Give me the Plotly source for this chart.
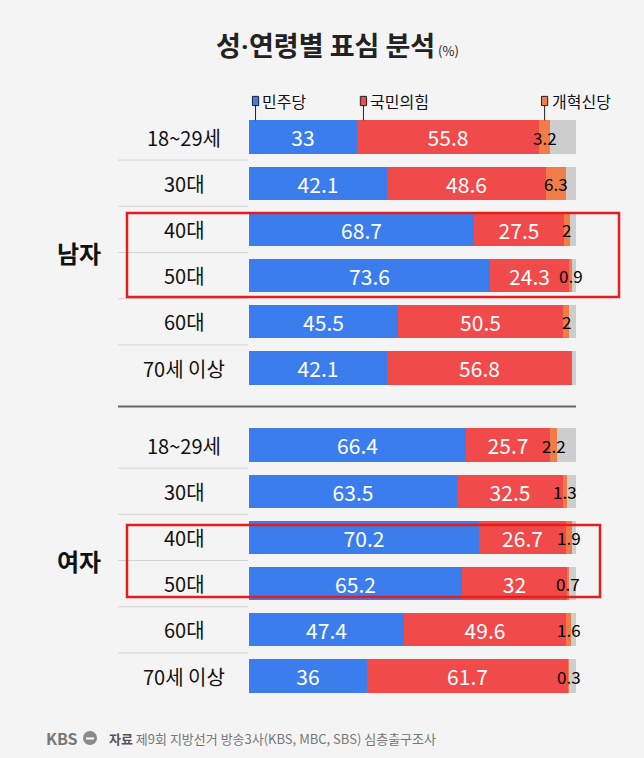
import plotly.graph_objects as go

# 데이터
parties = ['민주당', '국민의힘', '개혁신당']
ages = ['18~29세', '30대', '40대', '50대', '60대', '70세 이상']
groups = ['남자', '여자']

men_dem = [33, 42.1, 68.7, 73.6, 45.5, 42.1]
men_ppp = [55.8, 48.6, 27.5, 24.3, 50.5, 56.8]
men_rep = [3.2, 6.3, 2, 0.9, 2, None]

women_dem = [66.4, 63.5, 70.2, 65.2, 47.4, 36]
women_ppp = [25.7, 32.5, 26.7, 32, 49.6, 61.7]
women_rep = [2.2, 1.3, 1.9, 0.7, 1.6, 0.3]

source = '제9회 지방선거 방송3사(KBS, MBC, SBS) 심층출구조사'

# 스타일
W, H = 644, 758
FONT = 'Noto Sans CJK KR'
BLUE = '#3b7ded'
RED = '#f04a4a'
ORANGE = '#f07c48'
GRAY = '#cdcdcd'
BG = '#f4f4f4'

ROW_PX = 46.2      # 행 간격(px)
TOP_ROW_PX = 137   # 첫 행 중심(px)
GAP = 6.667        # 여자 그룹 시작 위치


def px(x):
    return x / W


def py(y):
    return 1 - y / H


dem = men_dem + women_dem
ppp = men_ppp + women_ppp
rep = men_rep + women_rep
rep0 = [v if v is not None else 0 for v in rep]
rest = [max(0, 100 - a - b - c) for a, b, c in zip(dem, ppp, rep0)]
ypos = [i for i in range(len(ages))] + [i + GAP for i in range(len(ages))]

fig = go.Figure()
common = dict(orientation='h', y=ypos, width=0.72, marker_line_width=0,
              hoverinfo='skip', showlegend=False)
inside = dict(textposition='inside', insidetextanchor='middle', constraintext='none',
              textangle=0, textfont=dict(color='white', size=21, family=FONT))
fig.add_trace(go.Bar(x=dem, marker_color=BLUE, text=[f'{v:g}' for v in dem], **inside, **common))
fig.add_trace(go.Bar(x=ppp, marker_color=RED, text=[f'{v:g}' for v in ppp], **inside, **common))
fig.add_trace(go.Bar(x=rep0, marker_color=ORANGE, textposition='none', **common))
fig.add_trace(go.Bar(x=rest, marker_color=GRAY, textposition='none', **common))

annotations = []
shapes = []

# 개혁신당 값 라벨
for a, b, c, y in zip(dem, ppp, rep, ypos):
    if c is None:
        continue
    annotations.append(dict(x=a + b + c / 2, y=y, xref='x', yref='y', text=f'{c:g}',
                            xanchor='center', yanchor='middle', showarrow=False,
                            font=dict(size=17, color='#000', family=FONT)))

# 연령 라벨 + 행 구분선
for gi, g in enumerate(groups):
    base = 0 if gi == 0 else GAP
    for i, a in enumerate(ages):
        annotations.append(dict(x=px(184), y=base + i, xref='paper', yref='y', text=a,
                                xanchor='center', yanchor='middle', showarrow=False,
                                font=dict(size=20, color='#111', family=FONT)))
        if i < len(ages) - 1:
            shapes.append(dict(type='line', xref='paper', yref='y', x0=px(118), x1=px(248),
                               y0=base + i + 0.5, y1=base + i + 0.5,
                               line=dict(color='#d4d4d4', width=1)))
    annotations.append(dict(x=px(79), y=base + 2.5, xref='paper', yref='y', text=f'<b>{g}</b>',
                            xanchor='center', yanchor='middle', showarrow=False,
                            font=dict(size=24, color='#111', family=FONT)))

# 그룹 구분선
shapes.append(dict(type='line', xref='paper', yref='y', x0=px(118), x1=px(576),
                   y0=(len(ages) - 1 + GAP) / 2, y1=(len(ages) - 1 + GAP) / 2,
                   line=dict(color='#666', width=2)))

# 강조 박스
for x0, x1, y0, y1 in [(127, 619, 213, 297), (127, 600, 525, 597)]:
    shapes.append(dict(type='rect', xref='paper', yref='paper', x0=px(x0), x1=px(x1),
                       y0=py(y1), y1=py(y0), line=dict(color='#e41e1e', width=2.5)))

# 범례 (첫 행 막대를 가리킴)
leg_x = [2, dem[0] + 2, dem[0] + ppp[0] + rep0[0] / 2]
leg_colors = [BLUE, RED, ORANGE]
leg_y = (101 - TOP_ROW_PX) / ROW_PX
for name, lx, col in zip(parties, leg_x, leg_colors):
    shapes.append(dict(type='line', xref='x', yref='y', x0=lx, x1=lx, y0=leg_y, y1=-0.36,
                       line=dict(color='#222', width=1)))
    shapes.append(dict(type='rect', xref='x', yref='y', x0=lx - 0.95, x1=lx + 0.95,
                       y0=leg_y - 0.1, y1=leg_y + 0.1, fillcolor=col,
                       line=dict(color='#222', width=1)))
    annotations.append(dict(x=lx + 1.5, y=leg_y, xref='x', yref='y', text=name,
                            xanchor='left', yanchor='middle', showarrow=False,
                            font=dict(size=16, color='#111', family=FONT)))

# 제목
annotations.append(dict(x=px(214), y=py(44), xref='paper', yref='paper',
                        xanchor='left', yanchor='middle',
                        text='<b>성<span style="font-family:Roboto">·</span>연령별 표심 분석</b>'
                             '<span style="font-size:13px"> (%)</span>',
                        showarrow=False, font=dict(size=27, color='#222', family=FONT)))

# 출처
annotations.append(dict(x=px(44), y=py(738), xref='paper', yref='paper',
                        xanchor='left', yanchor='middle', text='<b>KBS</b>', showarrow=False,
                        font=dict(size=16, color='#777', family=FONT)))
shapes.append(dict(type='circle', xref='paper', yref='paper', x0=px(83), x1=px(97),
                   y0=py(745), y1=py(731), fillcolor='#8a8a8a', line=dict(width=0)))
shapes.append(dict(type='line', xref='paper', yref='paper', x0=px(86), x1=px(94),
                   y0=py(738.5), y1=py(738.5), line=dict(color='white', width=2)))
annotations.append(dict(x=px(107), y=py(738), xref='paper', yref='paper',
                        xanchor='left', yanchor='middle',
                        text=f'<b style="color:#555">자료</b> {source}', showarrow=False,
                        font=dict(size=13, color='#777', family=FONT)))

fig.update_layout(
    width=W, height=H,
    barmode='stack',
    bargap=0,
    paper_bgcolor=BG, plot_bgcolor=BG,
    margin=dict(l=0, r=0, t=0, b=0),
    xaxis=dict(domain=[px(249), px(576)], range=[0, 100], visible=False, fixedrange=True),
    yaxis=dict(domain=[0, 1], range=[(H - TOP_ROW_PX) / ROW_PX, -TOP_ROW_PX / ROW_PX],
               visible=False, fixedrange=True),
    shapes=shapes,
    annotations=annotations,
    font=dict(family=FONT),
)

# 페이지 기본 여백 제거
fig.write_html('out.html', config={'displayModeBar': False},
               post_script="document.body.style.margin='0';document.body.style.overflow='hidden';")
